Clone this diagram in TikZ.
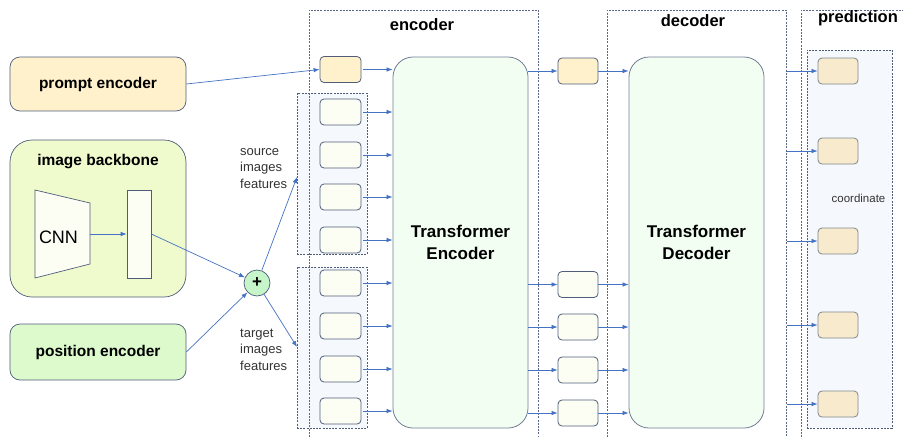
\documentclass[tikz,border=0pt]{standalone}
\usepackage{fontspec}
\setmainfont{Liberation Sans}
\usetikzlibrary{arrows.meta}
\definecolor{bord}{HTML}{4F5D7A}
\definecolor{arrc}{HTML}{4472C4}
\definecolor{promptf}{HTML}{FFF1CC}
\definecolor{backf}{HTML}{EFFACD}
\definecolor{posf}{HTML}{DCFACC}
\definecolor{creamf}{HTML}{FDFEF3}
\definecolor{groupf}{HTML}{F5F8FD}
\definecolor{transf}{HTML}{F2FEF2}
\definecolor{predf}{HTML}{F8EBCD}
\definecolor{predb}{HTML}{80868F}
\definecolor{plusf}{HTML}{C5F5C9}
\definecolor{dashc}{HTML}{5A6788}
\begin{document}
\begin{tikzpicture}[x=1pt,y=-1pt,
  bigbox/.style={draw=bord,line width=0.7pt,rounded corners=10pt,minimum width=176pt,inner sep=0pt},
  boxfont/.style={font=\fontsize{15.5}{18}\selectfont\bfseries},
  tok/.style={draw=bord,line width=0.8pt,rounded corners=4pt,minimum width=41pt,minimum height=26pt,inner sep=0pt,fill=creamf},
  ptok/.style={tok,draw=predb,fill=predf,minimum width=40pt},
  tbox/.style={draw=bord!80,line width=0.8pt,rounded corners=20pt,minimum width=135pt,minimum height=371pt,fill=transf,align=center,font=\fontsize{17}{22}\selectfont\bfseries},
  grp/.style={draw=bord,dash pattern=on 2pt off 1.2pt,line width=0.6pt,fill=groupf,inner sep=0pt},
  cont/.style={draw=dashc,dash pattern=on 2pt off 1.2pt,line width=0.6pt},
  arr/.style={draw=arrc,line width=0.7pt,-{Latex[length=6pt,width=4.5pt]}},
  head/.style={font=\fontsize{16.5}{19}\selectfont\bfseries,inner sep=0pt},
  lab/.style={font=\fontsize{13}{16.5}\selectfont,text=black!80,align=left,inner sep=0pt,anchor=west}
]
\useasboundingbox (0,0) rectangle (903,437);

% left boxes
\node[bigbox,fill=promptf,minimum height=54pt,boxfont] (prompt) at (98,84) {prompt encoder};
\node[bigbox,fill=backf,minimum height=157pt,rounded corners=22pt] (back) at (98,218.5) {};
\node[boxfont,inner sep=0pt] (backt) at (98,162) {image backbone};
\node[bigbox,fill=posf,minimum height=56pt,boxfont] (pos) at (98,352) {position encoder};

% CNN
\draw[draw=bord,line width=0.7pt,fill=creamf] (35,190) -- (90,203) -- (90,264) -- (35,278) -- cycle;
\node[font=\fontsize{18}{20}\selectfont,inner sep=0pt] (cnn) at (58.5,237) {CNN};
\coordinate (cnnout) at (90,234);
\node[draw=bord,line width=0.7pt,fill=creamf,minimum width=24pt,minimum height=88pt,inner sep=0pt] (feat) at (139,234) {};
\draw[arr] (cnnout) -- (feat.west);

% plus
\node[circle,draw=bord,line width=0.7pt,fill=plusf,minimum size=26pt,inner sep=0pt,font=\fontsize{17}{18}\selectfont\bfseries] (plus) at (257,283) {+};
\draw[arr] (feat.east) -- (plus);
\draw[arr] (pos.east) -- (plus);

% groups
\node[grp,minimum width=70pt,minimum height=161pt] (sg) at (332,173.5) {};
\node[grp,minimum width=70pt,minimum height=161pt] (tg) at (332,347.5) {};
\coordinate (sga) at (297,177);
\coordinate (tga) at (297,347);
\draw[arr] (plus) -- (sga);
\draw[arr] (plus) -- (tga);
\node[lab] (srcl) at (240,168.5) {source\\images\\features};
\node[lab] (tgtl) at (240,349.5) {target\\images\\features};

% containers
\draw[cont] (309,437) -- (309,10) -- (538,10) -- (538,437);
\draw[cont] (607,437) -- (607,10) -- (786,10) -- (786,437);
\draw[cont] (801,437) -- (801,10) -- (903,10);
\node[head] (ench) at (422,25) {encoder};
\node[head] (dech) at (693,21) {decoder};
\node[head] (predh) at (858,18) {prediction};
\coordinate (decR) at (787,0);

% prediction inner
\node[grp,minimum width=85pt,minimum height=378pt] (pg) at (849.5,239) {};
\node[font=\fontsize{11.5}{13}\selectfont,text=black!80,inner sep=0pt] (coord) at (858.5,198) {coordinate};

% transformer boxes
\node[tbox] (te) at (460.5,242.5) {Transformer\\Encoder};
\node[tbox] (td) at (696.5,242.5) {Transformer\\Decoder};

% encoder tokens
\node[tok,fill=promptf] (pt) at (340.5,69.5) {};
\foreach \i/\y in {1/112,2/155,3/197,4/240}{
  \node[tok] (s\i) at (340.5,\y) {};
  \draw[arr] ([xshift=2pt]s\i.east) -- (s\i.east -| te.west);
}
\foreach \i/\y in {1/283,2/326,3/369,4/411}{
  \node[tok] (t\i) at (340.5,\y) {};
  \draw[arr] ([xshift=2pt]t\i.east) -- (t\i.east -| te.west);
}
\draw[arr] (prompt.east) -- (pt.west);
\draw[arr] ([xshift=2pt]pt.east) -- (pt.east -| te.west);

% between encoder and decoder
\node[tok,fill=promptf,minimum width=40pt] (qt) at (578,71) {};
\draw[arr] (qt.west -| te.east) -- (qt.west);
\draw[arr] (qt.east) -- (qt.east -| td.west);
\foreach \i/\y in {1/284.5,2/327,3/370,4/413}{
  \node[tok,minimum width=40pt] (e\i) at (578,\y) {};
  \draw[arr] (e\i.west -| te.east) -- (e\i.west);
  \draw[arr] (e\i.east) -- (e\i.east -| td.west);
}

% prediction tokens
\foreach \i/\y in {1/71,2/151,3/241,4/325,5/404}{
  \node[ptok] (p\i) at (838,\y) {};
  \draw[arr] (p\i.west -| decR) -- (p\i.west);
}
\end{tikzpicture}
\end{document}
